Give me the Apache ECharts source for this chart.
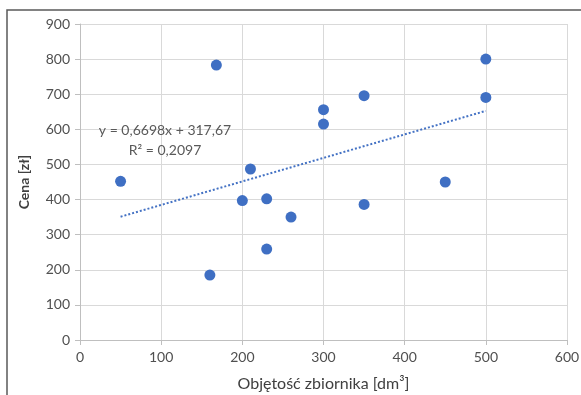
<!DOCTYPE html>
<html>
<head>
<meta charset="utf-8">
<script src="https://cdn.jsdelivr.net/npm/echarts@6/dist/echarts.min.js"></script>
<style>html,body{margin:0;padding:0;background:#fff}#c{width:581px;height:395px}</style>
</head>
<body>
<div id="c"></div>
<script>
const volumes = [50, 160, 168, 200, 210, 230, 230, 260, 300, 300, 350, 350, 450, 500, 500];
const prices  = [452, 185, 783, 397, 487, 402, 259, 350, 656, 615, 696, 386, 450, 800, 691];
const trendSlope = 0.6698;
const trendIntercept = 317.67;
const trendRange = [50, 500];
const xTicks = [0, 100, 200, 300, 400, 500, 600];
const yTicks = [0, 100, 200, 300, 400, 500, 600, 700, 800, 900];
const equationLines = ['y = 0,6698x + 317,67', 'R² = 0,2097'];

const points = volumes.map((v, i) => [v, prices[i]]);
const trend = trendRange.map(x => [x, trendSlope * x + trendIntercept]);

const chart = echarts.init(document.getElementById('c'));
const font = 'Lato, "Open Sans", sans-serif';
chart.setOption({
  animation: false,
  backgroundColor: '#fff',
  grid: { left: 80, right: 14, top: 24, bottom: 55, outerBoundsMode: 'none', containLabel: false },
  xAxis: {
    type: 'value', min: xTicks[0], max: xTicks[xTicks.length - 1], interval: 100,
    name: 'Objętość zbiornika [dm³]', nameLocation: 'middle', nameGap: 36,
    nameTextStyle: { color: '#404040', fontSize: 16, fontFamily: font },
    axisLine: { show: true, lineStyle: { color: '#bfbfbf', width: 1 } },
    axisTick: { show: true, length: 5, lineStyle: { color: '#bfbfbf' } },
    axisLabel: { color: '#505050', fontSize: 14, fontFamily: font, margin: 10 },
    splitLine: { show: true, lineStyle: { color: '#d9d9d9', width: 1 } }
  },
  yAxis: {
    type: 'value', min: yTicks[0], max: yTicks[yTicks.length - 1], interval: 100,
    name: 'Cena [zł]', nameLocation: 'middle', nameGap: 49, nameRotate: 90,
    nameTextStyle: { color: '#404040', fontSize: 14, fontWeight: 'bold', fontFamily: font },
    axisLine: { show: true, lineStyle: { color: '#bfbfbf', width: 1 } },
    axisTick: { show: true, length: 5, lineStyle: { color: '#bfbfbf' } },
    axisLabel: { color: '#505050', fontSize: 14, fontFamily: font, margin: 10 },
    splitLine: { show: true, lineStyle: { color: '#d9d9d9', width: 1 } }
  },
  graphic: [
    { type: 'rect', shape: { x: 7, y: 10, width: 600, height: 420 }, style: { fill: 'none', stroke: '#595959', lineWidth: 1.5 }, z: 100, silent: true },
    { type: 'text', x: 165, y: 130, style: { text: equationLines[0], fill: '#595959', font: '14px ' + font, textAlign: 'center', textVerticalAlign: 'middle' }, z: 50 },
    { type: 'text', x: 165, y: 150, style: { text: equationLines[1], fill: '#595959', font: '14px ' + font, textAlign: 'center', textVerticalAlign: 'middle' }, z: 50 }
  ],
  series: [
    {
      type: 'line', data: trend, symbol: 'none', silent: true,
      lineStyle: { color: '#4472C4', width: 2, type: [2, 2] }, z: 2
    },
    {
      type: 'scatter', data: points, symbol: 'circle', symbolSize: 11,
      itemStyle: { color: '#3f6fc3', opacity: 1 }, z: 3
    }
  ]
});
</script>
</body>
</html>
